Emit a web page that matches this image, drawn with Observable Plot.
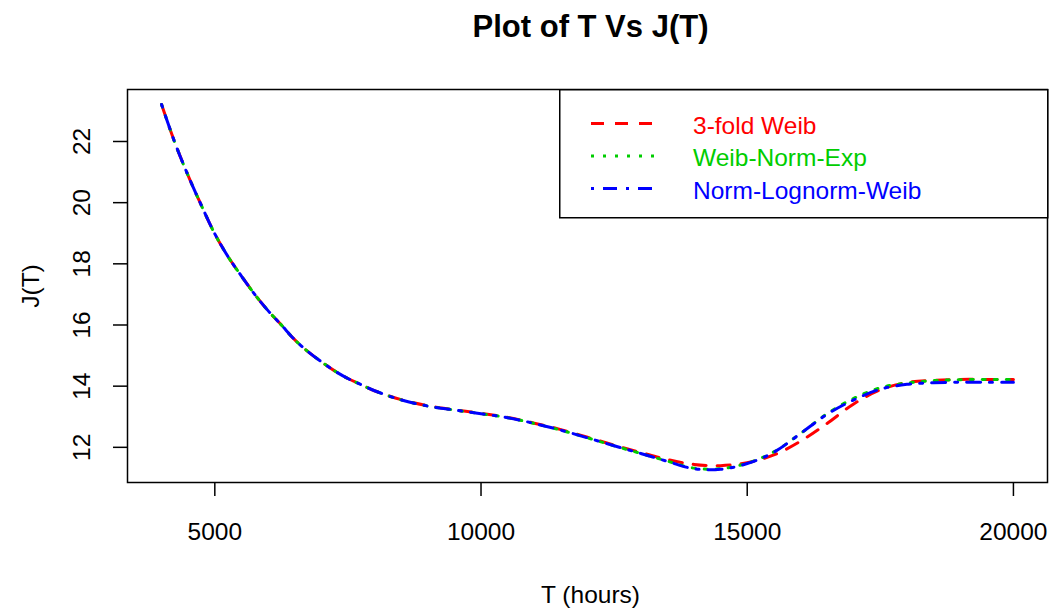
<!DOCTYPE html>
<html>
<head>
<meta charset="utf-8">
<script src="https://cdn.jsdelivr.net/npm/d3@7"></script>
<script src="https://cdn.jsdelivr.net/npm/@observablehq/plot@0.6"></script>
<style>
  body { margin: 0; background: #fff; }
  #wrap { position: relative; width: 1053px; height: 615px; font-family: "Liberation Sans", Arial, Helvetica, sans-serif; }
  #legend { position: absolute; left: 559px; top: 89px; }
</style>
</head>
<body>
<div id="wrap"></div>
<script>
// ---- data ----
const hours = [4000,4250,4500,4750,5000,5250,5500,5750,6000,6250,6500,6750,7000,7250,7500,7750,8000,8500,9000,9500,10000,10500,11000,11500,12000,12500,13000,13500,14000,14500,15000,15500,16000,16500,17000,17500,18000,18500,19000,19500,20000];
const weib3 = [23.21,21.96,20.88,19.9,18.98,18.23,17.6,17.0,16.47,16.0,15.52,15.13,14.8,14.5,14.25,14.05,13.85,13.56,13.36,13.23,13.11,12.98,12.79,12.58,12.33,12.07,11.83,11.6,11.44,11.4,11.5,11.75,12.2,12.78,13.42,13.88,14.12,14.19,14.22,14.22,14.22];
const weibNormExp = [23.21,21.96,20.88,19.9,18.98,18.23,17.6,17.0,16.47,16.0,15.52,15.13,14.8,14.5,14.25,14.05,13.85,13.55,13.35,13.22,13.1,12.97,12.78,12.56,12.31,12.05,11.8,11.55,11.32,11.3,11.48,11.85,12.45,13.1,13.6,13.95,14.1,14.18,14.21,14.22,14.22];
const normLognormWeib = [23.21,21.96,20.88,19.9,18.98,18.23,17.6,17.0,16.47,16.0,15.52,15.13,14.8,14.5,14.25,14.05,13.85,13.55,13.35,13.22,13.1,12.97,12.78,12.56,12.31,12.05,11.8,11.54,11.3,11.28,11.47,11.84,12.45,13.08,13.55,13.9,14.06,14.11,14.13,14.13,14.13];

const seriesNames = ["3-fold Weib", "Weib-Norm-Exp", "Norm-Lognorm-Weib"];
const seriesValues = [weib3, weibNormExp, normLognormWeib];
const seriesColors = ["#ff0000", "#00cd00", "#0000ff"];
const seriesDash = ["13,11", "3,9", "3,9,14,9"];

const xTicks = [5000, 10000, 15000, 20000];
const yTicks = [12, 14, 16, 18, 20, 22];

const titleText = "Plot of T Vs J(T)";
const xLabel = "T (hours)";
const yLabel = "J(T)";

// ---- build ----
const font = '"Liberation Sans", Arial, Helvetica, sans-serif';
const fs = 24.5;
const lineMarks = seriesNames.map((name, i) =>
  Plot.line(hours.map((t, k) => ({t, j: seriesValues[i][k]})), {
    x: "t", y: "j", stroke: seriesColors[i], strokeWidth: 3,
    strokeDasharray: seriesDash[i], curve: "catmull-rom"
  })
);

const chart = Plot.plot({
  width: 1053, height: 615,
  marginLeft: 127, marginRight: 6, marginTop: 89, marginBottom: 133,
  x: {domain: [3360, 20640]},
  y: {domain: [10.85, 23.7]},
  style: {fontFamily: font, background: "white", color: "black"},
  marks: [
    Plot.frame({stroke: "black", strokeWidth: 1.5}),
    Plot.axisX({ticks: xTicks, tickSize: 14, tickFormat: () => "", label: null, strokeWidth: 1.5}),
    Plot.axisY({ticks: yTicks, tickSize: 14, tickFormat: () => "", label: null, strokeWidth: 1.5}),
    Plot.text(xTicks, {x: d => d, text: d => String(d), frameAnchor: "bottom", dy: 50, lineAnchor: "middle", fontSize: fs, fill: "black"}),
    Plot.text(yTicks, {y: d => d, text: d => String(d), frameAnchor: "left", dx: -45.5, rotate: -90, lineAnchor: "middle", textAnchor: "middle", fontSize: fs, fill: "black"}),
    Plot.text([xLabel], {text: d => d, frameAnchor: "bottom", dx: 3, dy: 113, lineAnchor: "middle", fontSize: fs, fill: "black"}),
    Plot.text([yLabel], {text: d => d, frameAnchor: "left", dx: -96, rotate: -90, lineAnchor: "middle", textAnchor: "middle", fontSize: fs, fill: "black"}),
    Plot.text([titleText], {text: d => d, frameAnchor: "top", dx: 3, dy: -62, lineAnchor: "middle", fontSize: 31, fontWeight: "bold", fill: "black"}),
    ...lineMarks
  ]
});

const wrap = document.getElementById("wrap");
wrap.appendChild(chart);

// ---- legend ----
const lg = d3.select(wrap).append("svg").attr("id", "legend")
  .attr("width", 490).attr("height", 130);
lg.append("rect").attr("x", 0.75).attr("y", 0.75).attr("width", 488).attr("height", 128)
  .attr("fill", "white").attr("stroke", "black").attr("stroke-width", 1.5);
const rows = lg.selectAll("g.row").data(seriesNames).join("g")
  .attr("transform", (d, i) => `translate(0, ${34.5 + i * 32.5})`);
rows.append("line").attr("x1", 32).attr("x2", 97).attr("y1", 0).attr("y2", 0)
  .attr("stroke", (d, i) => seriesColors[i]).attr("stroke-width", 3)
  .attr("stroke-dasharray", (d, i) => seriesDash[i]);
rows.append("text").attr("x", 134).attr("y", 10).text(d => d)
  .attr("fill", (d, i) => seriesColors[i]).attr("font-size", fs)
  .attr("font-family", font);
</script>
</body>
</html>
